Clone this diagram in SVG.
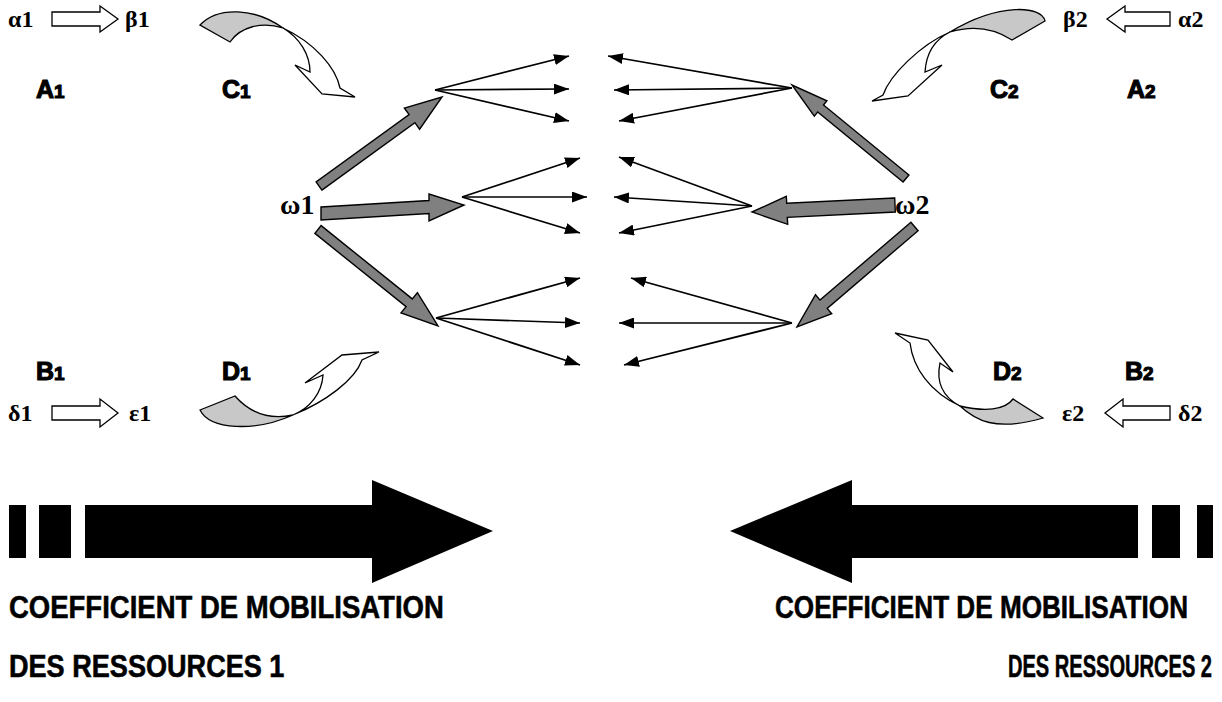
<svg xmlns="http://www.w3.org/2000/svg" width="1222" height="702" viewBox="0 0 1222 702">
<style>
.gr{font-family:"Liberation Serif","Times New Roman",serif;font-weight:bold;font-size:24px;fill:#000}
.om{font-family:"Liberation Serif","Times New Roman",serif;font-weight:bold;font-size:28px;fill:#000}
.lb{font-family:"Liberation Sans",Arial,sans-serif;font-weight:bold;font-size:25px;fill:#000;stroke:#000;stroke-width:1.1}
.lb tspan{font-size:19px}
.big{font-family:"Liberation Sans",Arial,sans-serif;font-weight:bold;font-size:27.5px;fill:#000;stroke:#000;stroke-width:0.5}
.hol{fill:#fff;stroke:#000;stroke-width:1.3}
.rib{fill:#c8c8c8;stroke:#000;stroke-width:1.3}
.wh{fill:#fff;stroke:#000;stroke-width:1.3}
.thk{fill:#808080;stroke:#000;stroke-width:1.4}
.thin{stroke:#000;stroke-width:1.7;fill:none;marker-end:url(#ah)}
</style>
<defs>
<marker id="ah" viewBox="0 0 15 11" refX="15" refY="5.5" markerWidth="15" markerHeight="11" markerUnits="userSpaceOnUse" orient="auto"><path d="M0,0 L15,5.5 L0,11 Z" fill="#000"/></marker>
</defs>
<rect width="1222" height="702" fill="#fff"/>

<g id="A1">
<text class="gr" x="8" y="27">α1</text>
<path class="hol" d="M52,12 H100 V6 L118,19 L100,32 V26 H52 Z"/>
<text class="gr" x="125" y="27">β1</text>
<text class="lb" x="36" y="98">A<tspan>1</tspan></text>
</g>
<g id="C1">
<path class="rib" d="M200,25 C218,6 255,8 283,28 C262,21 240,27 230,42 Z"/>
<path class="wh" d="M283,28 C315,43 336,68 340,88 L355,97 L322,94 L295,65 L310,72 C310,55 300,38 283,28 Z"/>
<text class="lb" x="222" y="98">C<tspan>1</tspan></text>
</g>
<g id="A2">
<text class="gr" x="1063" y="27">β2</text>
<path class="hol" d="M1170,12 H1125 V6 L1107,19 L1125,32 V26 H1170 Z"/>
<text class="gr" x="1178" y="27">α2</text>
<text class="lb" x="1127" y="98">A<tspan>2</tspan></text>
</g>
<g id="C2">
<path class="rib" d="M1045,21 C1042,6 1000,2 950,32 C970,26 992,27 1012,40 Z"/>
<path class="wh" d="M950,32 C920,45 890,75 883,95 L872,101 L908,96 L942,65 L925,72 C926,55 932,41 950,32 Z"/>
<text class="lb" x="990" y="98">C<tspan>2</tspan></text>
</g>
<g id="B1">
<text class="lb" x="36" y="380">B<tspan>1</tspan></text>
<text class="gr" x="8" y="421">δ1</text>
<path class="hol" d="M52,406 H100 V399 L118,413 L100,427 V420 H52 Z"/>
<text class="gr" x="129" y="421">ε1</text>
</g>
<g id="D1">
<path class="rib" d="M200,410 C210,430 255,432 293,415 C270,420 250,413 235,396 Z"/>
<path class="wh" d="M293,415 C325,402 355,380 362,360 L379,352 L342,355 L305,383 L323,375 C322,393 310,408 293,415 Z"/>
<text class="lb" x="222" y="380">D<tspan>1</tspan></text>
</g>
<g id="B2">
<text class="lb" x="1125" y="380">B<tspan>2</tspan></text>
<text class="gr" x="1062" y="421">ε2</text>
<path class="hol" d="M1170,406 H1123 V399 L1105,413 L1123,427 V420 H1170 Z"/>
<text class="gr" x="1178" y="421">δ2</text>
</g>
<g id="D2">
<path class="rib" d="M1043,418 L1013,399 C1005,410 985,412 960,406 C975,420 995,432 1043,418 Z"/>
<path class="wh" d="M960,406 C930,392 913,368 910,343 L895,333 L928,340 L953,372 L940,363 C936,382 943,397 960,406 Z"/>
<text class="lb" x="993" y="380">D<tspan>2</tspan></text>
</g>

<g id="omega1">
<text class="om" x="280" y="214">ω1</text>
</g>
<g id="omega2">
<text class="om" x="895" y="214">ω2</text>
</g>

<g id="connectors">
<polygon class="thk" points="321.9,190.1 414.9,122.7 419.6,129.2 442,97 404.4,108.2 409.1,114.6 316.1,181.9"/>
<polygon class="thk" points="321,207 429,200.5 429,194 464,205 429,221 429,213.5 321,220"/>
<polygon class="thk" points="314.9,233.4 406.1,306.7 401,312.9 438,326 417.4,292.7 412.3,298.9 321.1,225.6"/>
<polygon class="thk" points="908.9,175 823.5,105 826.9,100.8 792,85 814.3,116.2 817.7,112 903.1,182"/>
<polygon class="thk" points="894.7,198 786.7,203.3 786.3,196.3 752,212 787.7,224.3 787.3,217.3 895.3,212"/>
<polygon class="thk" points="910.9,222.3 820,300.1 815.5,294.75 797,327 831.7,313.75 827.2,308.4 918.1,230.7"/>

<line class="thin" x1="435" y1="90" x2="569" y2="56"/>
<line class="thin" x1="435" y1="90" x2="569" y2="89"/>
<line class="thin" x1="435" y1="90" x2="569" y2="121"/>
<line class="thin" x1="462" y1="197" x2="580" y2="158"/>
<line class="thin" x1="462" y1="197" x2="587" y2="197"/>
<line class="thin" x1="462" y1="197" x2="580" y2="233"/>
<line class="thin" x1="436" y1="318" x2="580" y2="278"/>
<line class="thin" x1="436" y1="318" x2="580" y2="323"/>
<line class="thin" x1="436" y1="318" x2="580" y2="365"/>

<line class="thin" x1="792" y1="88" x2="608" y2="56"/>
<line class="thin" x1="792" y1="88" x2="614" y2="90"/>
<line class="thin" x1="792" y1="88" x2="619" y2="121"/>
<line class="thin" x1="752" y1="206" x2="619" y2="157"/>
<line class="thin" x1="752" y1="206" x2="614" y2="197"/>
<line class="thin" x1="752" y1="206" x2="619" y2="233"/>
<line class="thin" x1="792" y1="323" x2="631" y2="278"/>
<line class="thin" x1="792" y1="323" x2="619" y2="323"/>
<line class="thin" x1="792" y1="323" x2="624" y2="365"/>
</g>

<g id="flow1">
<rect x="9" y="505" width="17" height="53" fill="#000"/>
<rect x="39" y="505" width="32" height="53" fill="#000"/>
<polygon points="85,505 372,505 372,480 493,531 372,583 372,558 85,558" fill="#000"/>
<text class="big" transform="translate(9,618) scale(1,1.12)" x="0" y="0">COEFFICIENT DE MOBILISATION</text>
<text class="big" transform="translate(9,677) scale(0.985,1.12)" x="0" y="0">DES RESSOURCES 1</text>
</g>
<g id="flow2">
<polygon points="730,531 852,480 852,505 1138,505 1138,558 852,558 852,583" fill="#000"/>
<rect x="1152" y="505" width="28" height="53" fill="#000"/>
<rect x="1197" y="505" width="16" height="53" fill="#000"/>
<text class="big" transform="translate(1188,618) scale(0.95,1.12)" x="0" y="0" text-anchor="end">COEFFICIENT DE MOBILISATION</text>
<text class="big" transform="translate(1212,677) scale(0.73,1.12)" x="0" y="0" text-anchor="end">DES RESSOURCES 2</text>
</g>
</svg>
